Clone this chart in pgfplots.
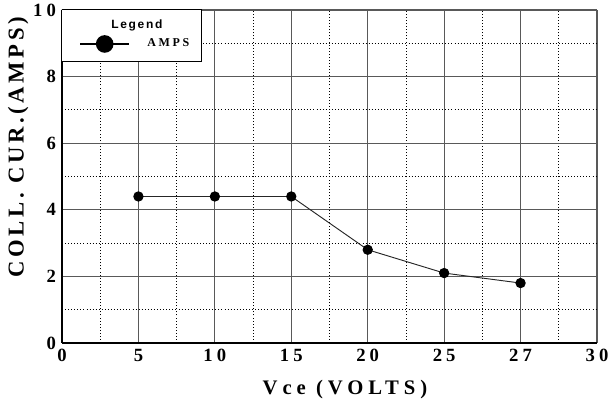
\documentclass[border=0pt]{standalone}
\usepackage{pgfplots}
\pgfplotsset{compat=1.18}
\usepackage{fontspec}
\setmainfont{Liberation Serif}
\setsansfont{Liberation Sans}
\newfontfamily\tickfont[LetterSpace=22]{Liberation Serif}
\newfontfamily\ylabfont[LetterSpace=16]{Liberation Serif}
\newfontfamily\xlabfont[LetterSpace=24]{Liberation Serif}
\newfontfamily\legfont[LetterSpace=22]{Liberation Serif}
\newfontfamily\legtitlefont[LetterSpace=14]{Liberation Sans}
\begin{document}
\begin{tikzpicture}
\begin{axis}[
  anchor=south west, at={(0,0)},
  scale only axis, width=401.25pt, height=249.75pt,
  xmin=0, xmax=7, ymin=0, ymax=10,
  xtick={0,...,7}, xticklabels={0,5,10,15,20,25,27,30},
  ytick={0,2,...,10}, yticklabels={0,2,4,6,8,10},
  minor xtick={0.5,1.5,...,6.5}, minor ytick={1,3,...,9},
  grid=both,
  major grid style={black!65, line width=0.8pt},
  minor grid style={black, line width=0.6pt, dash pattern=on 0.7pt off 1.6pt},
  axis lines*=left,
  axis line style={black, line width=2pt},
  major tick length=0pt, minor tick length=0pt,
  ticklabel style={font=\fontsize{14}{16}\tickfont\bfseries},
  xticklabel style={yshift=-1pt},
  yticklabel style={xshift=-1pt},
  xlabel={Vce (VOLTS)},
  xlabel style={at={(axis description cs:0.529,-0.141)}, anchor=center,
    font=\fontsize{15.5}{17}\xlabfont\bfseries},
  ylabel={COLL. CUR.(AMPS)},
  ylabel style={at={(axis description cs:-0.082,0.588)}, anchor=center,
    font=\fontsize{17}{19}\ylabfont\bfseries},
  legend style={at={(0.032,0.898)}, anchor=west, draw=none, fill=none,
    inner sep=0pt, column sep=13pt,
    nodes={inner sep=0pt, font=\fontsize{9}{10}\legfont\bfseries}},
  legend cell align=left,
  legend image code/.code={\draw[#1, mark repeat=2, mark phase=2]
    plot coordinates {(0pt,0pt) (18.4pt,0pt) (36.75pt,0pt)};},
]
\draw[black, line width=0.75pt, fill=white]
  (rel axis cs:0,1) rectangle (rel axis cs:0.26,0.844);
\node[font=\fontsize{9}{10}\legtitlefont\bfseries]
  at (rel axis cs:0.14,0.955) {Legend};
\addplot[black!85, line width=0.7pt, mark=*, mark size=3.5pt,
  mark options={black}, forget plot]
  coordinates {(1,4.4) (2,4.4) (3,4.4) (4,2.8) (5,2.1) (6,1.8)};
\addlegendimage{black, line width=1.2pt, mark=*, mark size=6pt}
\addlegendentry{AMPS}
\end{axis}
\pgfresetboundingbox
\path (-46.5pt,-47.25pt) rectangle (411.75pt,257.25pt);
\end{tikzpicture}
\end{document}
